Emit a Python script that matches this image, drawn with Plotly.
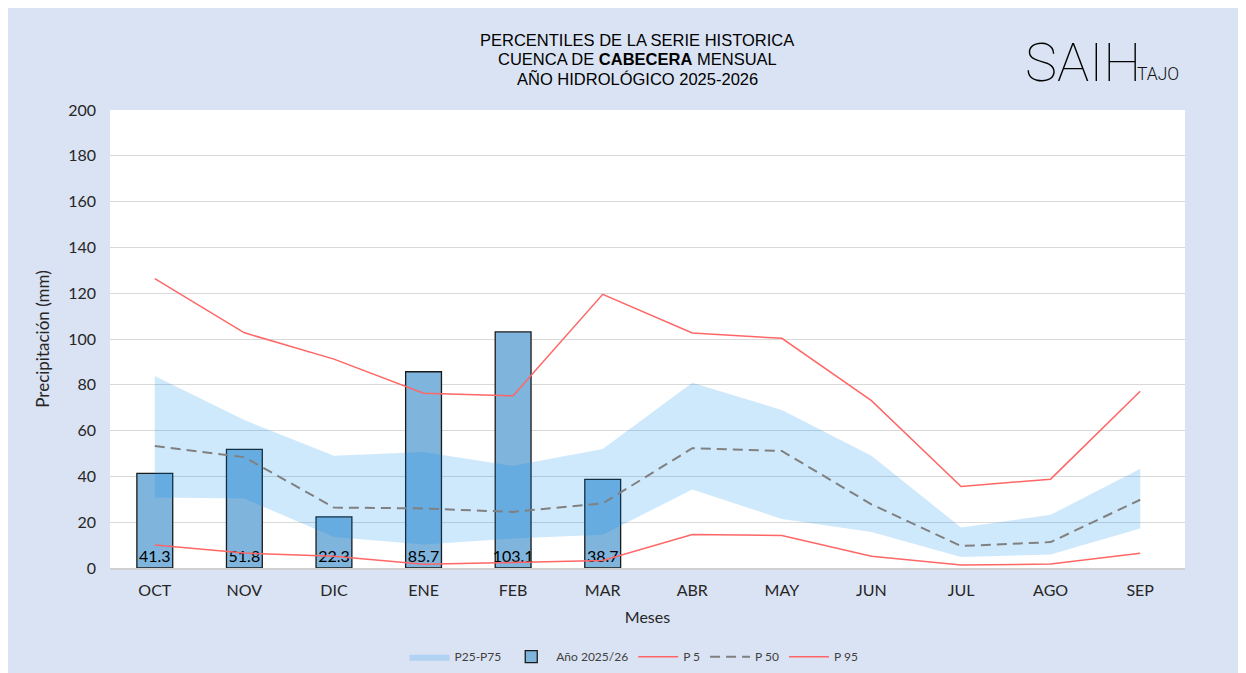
import plotly.graph_objects as go

meses = ["OCT", "NOV", "DIC", "ENE", "FEB", "MAR", "ABR", "MAY", "JUN", "JUL", "AGO", "SEP"]
anio_2025_26 = [41.3, 51.8, 22.3, 85.7, 103.1, 38.7, None, None, None, None, None, None]
p5 = [10.0, 6.5, 5.1, 1.6, 2.4, 3.3, 14.6, 14.2, 5.1, 1.3, 1.7, 6.4]
p25 = [30.8, 30.3, 13.5, 10.3, 12.9, 14.5, 34.3, 21.4, 15.7, 4.8, 5.9, 17.3]
p50 = [53.3, 48.4, 26.4, 26.0, 24.5, 28.2, 52.3, 51.1, 27.8, 9.6, 11.3, 29.8]
p75 = [83.8, 64.6, 49.0, 50.7, 44.6, 52.0, 80.9, 69.0, 49.0, 17.7, 23.2, 43.3]
p95 = [126.4, 102.7, 91.2, 76.3, 75.2, 119.5, 102.6, 100.3, 73.1, 35.6, 38.8, 77.2]
bar_labels = [f"{v:.1f}" if v is not None else "" for v in anio_2025_26]
title_lines = ["PERCENTILES DE LA SERIE HISTORICA",
               "CUENCA DE <b>CABECERA</b> MENSUAL",
               "AÑO HIDROLÓGICO 2025-2026"]

W, H = 1246, 673
ML, MR, MT, MB = 102, 69, 102, 112.7
PW, PH = W - ML - MR, H - MT - MB

FONT = "Lato, sans-serif"
RED = "rgb(255,102,102)"
TXT = "#262626"

fig = go.Figure()
fig.add_trace(go.Scatter(x=meses, y=p25, mode="lines", line=dict(width=0, color="rgba(0,0,0,0)"),
                         showlegend=False, hoverinfo="skip"))
fig.add_trace(go.Scatter(x=meses, y=p75, mode="lines", line=dict(width=0, color="rgba(0,0,0,0)"),
                         fill="tonexty", fillcolor="rgba(0,140,240,0.19)", name="P25-P75"))
fig.add_trace(go.Bar(x=meses, y=anio_2025_26, name="Año 2025/26",
                     marker=dict(color="rgb(127,180,221)", line=dict(color="#1a1a1a", width=1.3)),
                     text=bar_labels, textposition="inside", insidetextanchor="start", textangle=0,
                     constraintext="none", textfont=dict(family=FONT, size=16, color="black")))
fig.add_trace(go.Scatter(x=meses, y=p5, mode="lines", name="P 5", line=dict(color=RED, width=1.5)))
fig.add_trace(go.Scatter(x=meses, y=p50, mode="lines", name="P 50",
                         line=dict(color="#808080", width=2, dash="10px,6px")))
fig.add_trace(go.Scatter(x=meses, y=p95, mode="lines", name="P 95", line=dict(color=RED, width=1.5)))

def px_x(px):
    return (px - ML) / PW

def px_y(py):
    return (H - MB - py) / PH

annotations = []
for line, yc in zip(title_lines, [32, 51, 70]):
    annotations.append(dict(xref="paper", yref="paper", x=px_x(629), y=px_y(yc),
                            xanchor="center", yanchor="middle", showarrow=False, text=line,
                            font=dict(family="Liberation Sans, Arial, sans-serif", size=16.5, color="black")))
annotations += [
    dict(xref="paper", yref="paper", x=px_x(1015), y=px_y(87.5), xanchor="left", yanchor="bottom",
         showarrow=False, text="SAIH",
         font=dict(family="Roboto, sans-serif", size=54, color="black", weight=100)),
    dict(xref="paper", yref="paper", x=px_x(1127), y=px_y(77.5), xanchor="left", yanchor="bottom",
         showarrow=False, text="TAJO",
         font=dict(family="Roboto, sans-serif", size=17.5, color="#111111", weight=300)),
]

fig.update_layout(
    width=W, height=H,
    margin=dict(l=ML, r=MR, t=MT, b=MB, autoexpand=False),
    paper_bgcolor="#dae3f3", plot_bgcolor="white",
    bargap=0.6,
    font=dict(family=FONT, size=16, color=TXT),
    annotations=annotations,
    legend=dict(orientation="h", x=px_x(626), y=px_y(649), xanchor="center", yanchor="middle",
                font=dict(family=FONT, size=12, color="#404040"), itemwidth=40,
                bgcolor="rgba(0,0,0,0)", traceorder="normal"),
    xaxis=dict(range=[-0.5, 11.5], showgrid=False, showline=True, linecolor="#d0d0d0", linewidth=1.5,
               ticks="", tickfont=dict(size=16, color=TXT), ticklabelstandoff=7,
               title=dict(text="Meses", font=dict(size=16, color=TXT), standoff=14)),
    yaxis=dict(range=[0, 200], dtick=20, showgrid=True, gridcolor="#d9d9d9", gridwidth=1,
               zeroline=False, showline=False, ticks="", tickfont=dict(size=16, color=TXT),
               ticklabelstandoff=13,
               title=dict(text="Precipitación (mm)", font=dict(size=17, color=TXT), standoff=14)),
)

fig.write_html("out.html")
